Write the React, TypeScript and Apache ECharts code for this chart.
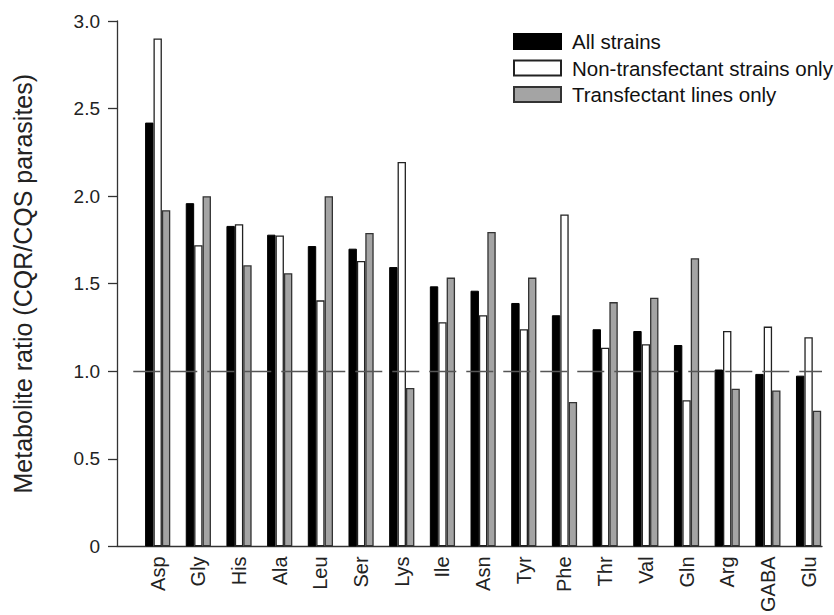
import React, { useEffect, useRef } from "react";
import * as echarts from "echarts";

const categories = ["Asp", "Gly", "His", "Ala", "Leu", "Ser", "Lys", "Ile", "Asn", "Tyr", "Phe", "Thr", "Val", "Gln", "Arg", "GABA", "Glu"];
const allStrains = [2.42, 1.96, 1.83, 1.78, 1.715, 1.70, 1.595, 1.485, 1.46, 1.39, 1.32, 1.24, 1.23, 1.15, 1.01, 0.985, 0.975];
const nonTransfectant = [2.90, 1.72, 1.84, 1.775, 1.405, 1.63, 2.195, 1.28, 1.32, 1.24, 1.895, 1.135, 1.155, 0.835, 1.23, 1.255, 1.195];
const transfectant = [1.92, 2.00, 1.605, 1.56, 2.00, 1.79, 0.905, 1.535, 1.795, 1.535, 0.825, 1.395, 1.42, 1.645, 0.90, 0.89, 0.775];
const yTicks = [0, 0.5, 1.0, 1.5, 2.0, 2.5, 3.0];
const referenceLevel = 1.0;

const FONT = "'Liberation Sans', Arial, Helvetica, sans-serif";

export default function App() {
  const ref = useRef<HTMLDivElement>(null);
  useEffect(() => {
    if (!ref.current) return;
    const chart = echarts.init(ref.current, undefined, { renderer: "svg" });
    const toPairs = (arr: number[]) => arr.map((v, i) => [i, v]);
    chart.setOption({
      animation: false,
      backgroundColor: "#ffffff",
      textStyle: { fontFamily: FONT },
      grid: { left: 117, right: 12, top: 21, bottom: 65, containLabel: false },
      legend: {
        orient: "vertical",
        left: 508,
        top: 26,
        itemWidth: 47,
        itemHeight: 15,
        itemGap: 5.5,
        icon: "rect",
        textStyle: { fontFamily: FONT, fontSize: 20.5, color: "#111", padding: [0, 0, 0, 6] },
        data: ["All strains", "Non-transfectant strains only", "Transfectant lines only"],
      },
      xAxis: {
        type: "value",
        min: -1,
        max: 16.33,
        interval: 1,
        splitLine: { show: false },
        axisTick: { show: false },
        axisLine: { show: true, onZero: false, lineStyle: { color: "#333", width: 1.3 } },
        axisLabel: {
          rotate: 90,
          margin: 10,
          fontSize: 20,
          color: "#222",
          fontFamily: FONT,
          showMinLabel: false,
          showMaxLabel: false,
          formatter: (v: number) => (Number.isInteger(v) && v >= 0 && v < categories.length ? categories[v] : ""),
        },
      },
      yAxis: {
        type: "value",
        min: 0,
        max: 3,
        interval: 0.5,
        name: "Metabolite ratio (CQR/CQS parasites)",
        nameLocation: "middle",
        nameGap: 82,
        nameTextStyle: { fontSize: 25, color: "#222", fontFamily: FONT },
        splitLine: { show: false },
        axisLine: { show: true, onZero: false, lineStyle: { color: "#333", width: 1.3 } },
        axisTick: { show: true, length: 9, inside: false, lineStyle: { color: "#333", width: 1.3 } },
        axisLabel: {
          margin: 17,
          fontSize: 19,
          color: "#222",
          fontFamily: FONT,
          formatter: (v: number) => {
            const t = yTicks.find((x) => Math.abs(x - v) < 1e-9);
            if (t === undefined) return "";
            return t === 0 ? "0" : t.toFixed(1);
          },
        },
      },
      series: [
        {
          name: "All strains",
          type: "bar",
          barWidth: 8.4,
          barGap: "0%",
          data: toPairs(allStrains),
          itemStyle: { color: "#000000", borderColor: "#000000", borderWidth: 1 },
        },
        {
          name: "Non-transfectant strains only",
          type: "bar",
          barWidth: 8.4,
          barGap: "0%",
          data: toPairs(nonTransfectant),
          itemStyle: { color: "#ffffff", borderColor: "#222", borderWidth: 1.3 },
        },
        {
          name: "Transfectant lines only",
          type: "bar",
          barWidth: 8.4,
          barGap: "0%",
          data: toPairs(transfectant),
          itemStyle: { color: "#a4a4a4", borderColor: "#333", borderWidth: 1.3 },
        },
        {
          name: "ref",
          type: "line",
          data: [],
          silent: true,
          z: 5,
          markLine: {
            silent: true,
            symbol: "none",
            label: { show: false },
            lineStyle: { color: "#555", width: 1.3, type: [27, 10] },
            data: [[{ coord: [-0.6, referenceLevel] }, { coord: [16.33, referenceLevel] }]],
          },
        },
      ],
    });
    return () => chart.dispose();
  }, []);
  return <div ref={ref} style={{ position: "fixed", left: 0, top: 0, width: 834, height: 615 }} />;
}
